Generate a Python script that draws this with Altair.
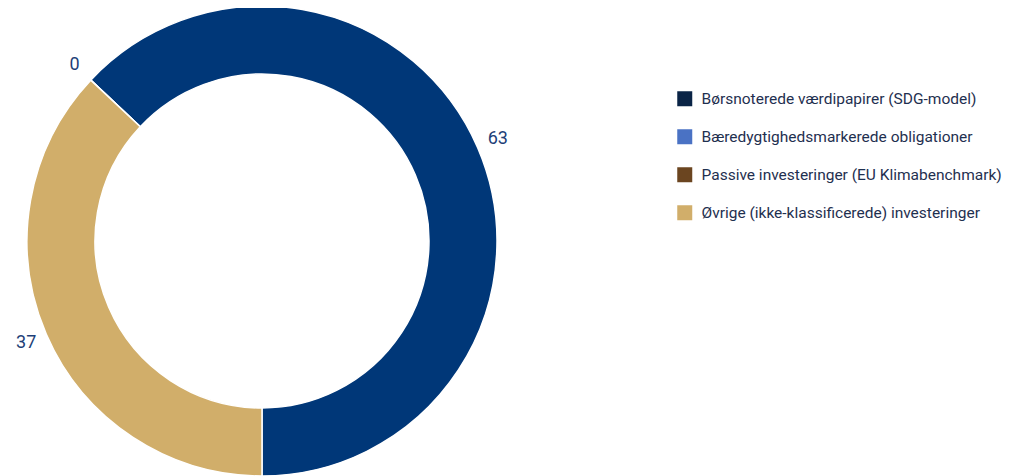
import altair as alt
import pandas as pd
import math

categories = [
    "Børsnoterede værdipapirer (SDG-model)",
    "Bæredygtighedsmarkerede obligationer",
    "Passive investeringer (EU Klimabenchmark)",
    "Øvrige (ikke-klassificerede) investeringer",
]
values = [63, 0, 0, 37]
stack_order = [0, 2, 3, 1]
show_label = [True, True, False, True]
arc_colors = ["#003778", "#4a72c4", "#6b4520", "#d1ae6a"]
legend_colors = ["#0a2446", "#4a72c4", "#6b4520", "#d1ae6a"]

df = pd.DataFrame({
    "category": categories,
    "value": values,
    "order": stack_order,
    "label": [str(v) for v in values],
    "show": show_label,
})

start = -46.8 * math.pi / 180
theta_scale = alt.Scale(range=[start, start + 2 * math.pi])

base = alt.Chart(df).encode(
    theta=alt.Theta("value:Q", stack=True, scale=theta_scale),
    order=alt.Order("order:Q"),
)

arcs = base.mark_arc(
    outerRadius=235, innerRadius=167, stroke="white", strokeWidth=1.5
).encode(
    x=alt.value(254), y=alt.value(233),
    color=alt.Color("category:N", scale=alt.Scale(domain=categories, range=arc_colors), legend=None),
)

labels = base.transform_filter("datum.show").mark_text(
    radius=257, fontSize=18, font="Roboto", color="#1e3f78"
).encode(
    x=alt.value(254), y=alt.value(233),
    text="label:N",
)

legend_layer = alt.Chart(df).mark_point(opacity=0, size=0).encode(
    x=alt.value(0), y=alt.value(0),
    fill=alt.Fill(
        "category:N",
        scale=alt.Scale(domain=categories, range=legend_colors),
        legend=alt.Legend(
            title=None, orient="none", legendX=669, legendY=83,
            symbolType="square", symbolSize=225, symbolOpacity=1,
            symbolStrokeWidth=0, labelFontSize=15.5, labelFont="Roboto",
            labelColor="#1f3050", rowPadding=21, labelOffset=9,
            labelLimit=400,
        ),
    ),
)

chart = alt.layer(arcs, labels, legend_layer).resolve_scale(color="independent", fill="independent").properties(
    width=998, height=468, padding=0, autosize="none"
).configure_view(stroke=None)

chart.save("out.html", embed_options={"renderer": "svg", "actions": False})
